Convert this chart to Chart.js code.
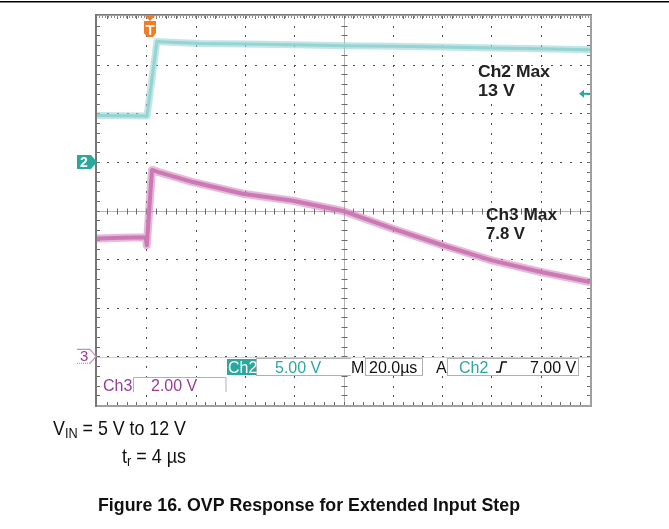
<!DOCTYPE html>
<html>
<head>
<meta charset="utf-8">
<script src="https://cdn.jsdelivr.net/npm/chart.js@4.4.1/dist/chart.umd.min.js"></script>
<style>
  html, body { margin: 0; padding: 0; background: #fff; }
</style>
</head>
<body>
<canvas id="scope" width="669" height="529"></canvas>
<script>
const ch2Time  = [0, 10, 20.3, 24.3, 30, 42, 60, 80, 100, 120, 140, 160, 180, 200];
const ch2Volts = [4.76, 4.74, 4.72, 12.38, 12.3, 12.17, 12.12, 12.05, 11.95, 11.9, 11.82, 11.72, 11.62, 11.52];
const ch3Time  = [0, 10, 19.8, 20.2, 22.3, 25, 38.9, 59.2, 79.5, 99.8, 120, 140.2, 160.1, 180.1, 200];
const ch3Volts = [4.85, 4.88, 4.9, 4.57, 7.67, 7.58, 7.17, 6.69, 6.4, 5.98, 5.25, 4.57, 3.95, 3.47, 3.06];

// scope settings
const ch2PerDiv = 5, ch3PerDiv = 2;
const trigTime = 21.5, trigLevel = 7.0;
const ch2Readout = '5.00 V', ch3Readout = '2.00 V', timeReadout = '20.0µs', trigReadout = '7.00 V';

const ch2Pts = ch2Time.map((t, i) => ({ x: t, y: ch2Volts[i] }));
const ch3Pts = ch3Time.map((t, i) => ({ x: t, y: ch3Volts[i] }));

// draw a run of text parts squeezed to a given width
function fitText(ctx, parts, x, baseline, width) {
    let w = 0;
    parts.forEach(p => { ctx.font = p.font; p.w = ctx.measureText(p.t).width; w += p.w; });
    ctx.save();
    ctx.translate(x, baseline);
    ctx.scale(width / w, 1);
    let cx = 0;
    parts.forEach(p => { ctx.font = p.font; ctx.fillText(p.t, cx, p.dy || 0); cx += p.w; });
    ctx.restore();
}

function box(ctx, x, y, w, h) {
    ctx.fillStyle = '#fff';
    ctx.fillRect(x, y, w, h);
    ctx.strokeRect(x + 0.5, y + 0.5, w, h);
}

const scopeScreen = {
    id: 'scopeScreen',
    beforeDatasetsDraw(chart) {
        const { ctx, chartArea: a, scales } = chart;
        const xs = scales.x, ys = scales.y3;
        const divW = (a.right - a.left) / 10, divH = (a.bottom - a.top) / 8;
        ctx.save();
        // dotted division lines
        ctx.fillStyle = '#4a4a4a';
        for (let i = 1; i < 10; i++) {
            if (i === 5) continue;
            const x = Math.round(xs.getPixelForValue(i * 20));
            for (let j = 1; j < 40; j++) ctx.fillRect(x, Math.round(a.top + j * divH / 5), 1, 2);
        }
        for (let k = 1; k < 8; k++) {
            if (k === 4) continue;
            const y = Math.round(ys.getPixelForValue(-2 + k * ch3PerDiv));
            for (let j = 1; j < 50; j++) ctx.fillRect(Math.round(a.left + j * divW / 5), y, 2, 1);
        }
        // centre crosshair
        const cx = Math.round(xs.getPixelForValue(100)) + 0.5;
        const cy = Math.round(ys.getPixelForValue(6)) + 0.5;
        ctx.strokeStyle = '#b4b4b4';
        ctx.lineWidth = 1;
        ctx.beginPath();
        ctx.moveTo(a.left, cy); ctx.lineTo(a.right, cy);
        ctx.moveTo(cx, a.top); ctx.lineTo(cx, a.bottom);
        ctx.stroke();
        ctx.strokeStyle = '#6a6a6a';
        ctx.beginPath();
        for (let j = 1; j < 50; j++) {
            const x = Math.round(a.left + j * divW / 5) + 0.5;
            ctx.moveTo(x, cy - 3); ctx.lineTo(x, cy + 3);
            ctx.moveTo(x, a.top); ctx.lineTo(x, a.top + 3);
            ctx.moveTo(x, a.bottom); ctx.lineTo(x, a.bottom - 3);
        }
        for (let j = 1; j < 40; j++) {
            const y = Math.round(a.top + j * divH / 5) + 0.5;
            ctx.moveTo(cx - 3, y); ctx.lineTo(cx + 3, y);
            ctx.moveTo(a.left, y); ctx.lineTo(a.left + 3, y);
            ctx.moveTo(a.right, y); ctx.lineTo(a.right - 3, y);
        }
        ctx.stroke();
        // fine ticks along the top edge
        ctx.fillStyle = '#8a8a8a';
        for (let x = a.left + 2; x < a.right; x += 3) ctx.fillRect(x, a.top, 1, 2);
        ctx.restore();
    },
    afterDatasetsDraw(chart) {
        const { ctx, chartArea: a, scales } = chart;
        const xs = scales.x, y2 = scales.y2, y3 = scales.y3;
        ctx.save();
        // frame
        ctx.strokeStyle = '#a0a0a0';
        ctx.lineWidth = 2;
        ctx.strokeRect(a.left - 1, a.top - 1, a.right - a.left + 2, a.bottom - a.top + 2);
        ctx.fillStyle = '#777';
        ctx.fillRect(a.left - 2, a.top - 2, 2, a.bottom - a.top + 4);
        ctx.fillRect(a.left - 2, a.top - 2, a.right - a.left + 4, 1);

        // readout strip
        ctx.strokeStyle = '#cfcfcf';
        ctx.lineWidth = 1;
        ctx.beginPath(); ctx.moveTo(a.left, 357.5); ctx.lineTo(a.right, 357.5); ctx.stroke();
        ctx.strokeStyle = '#b0b0b0';
        box(ctx, 256, 358, 94, 17);
        box(ctx, 365, 358, 57, 17);
        box(ctx, 447, 358, 131, 17);
        ctx.fillStyle = '#fff';
        ctx.fillRect(134, 378, 92, 14);
        ctx.beginPath();
        ctx.moveTo(133.5, 392); ctx.lineTo(133.5, 377.5); ctx.lineTo(226, 377.5); ctx.lineTo(226, 392);
        ctx.stroke();
        ctx.fillRect(102, 378, 30, 14);
        ctx.fillRect(350, 359, 14, 16);
        ctx.fillRect(435, 359, 11, 16);

        ctx.font = '16px Arial';
        ctx.textBaseline = 'alphabetic';
        ctx.fillStyle = '#2aa8a0';
        ctx.fillRect(227, 359, 29, 16);
        ctx.fillStyle = '#fff';
        ctx.fillText('Ch2', 228, 373);
        ctx.fillStyle = '#2aa8a0';
        ctx.fillText(ch2Readout, 275, 373);
        ctx.fillText('Ch2', 459, 373);
        ctx.fillStyle = '#111';
        ctx.fillText('M', 351, 373);
        ctx.fillText(timeReadout, 369, 373);
        ctx.fillText('A', 436, 373);
        ctx.fillText(trigReadout, 530, 373);
        ctx.strokeStyle = '#111';
        ctx.lineWidth = 1.6;
        ctx.beginPath();
        ctx.moveTo(496, 372); ctx.lineTo(500, 372); ctx.lineTo(502, 362); ctx.lineTo(507, 362);
        ctx.stroke();
        ctx.fillStyle = '#9a3d92';
        ctx.fillText('Ch3', 103, 391);
        ctx.fillText(ch3Readout, 151, 391);

        // channel ground markers
        const g2 = y2.getPixelForValue(0), g3 = y3.getPixelForValue(0);
        ctx.fillStyle = '#2aa8a0';
        ctx.beginPath();
        ctx.moveTo(77, g2 - 7); ctx.lineTo(91, g2 - 7); ctx.lineTo(97, g2);
        ctx.lineTo(91, g2 + 7); ctx.lineTo(77, g2 + 7); ctx.closePath(); ctx.fill();
        ctx.fillStyle = '#fff';
        ctx.font = 'bold 14px Arial';
        ctx.fillText('2', 80, g2 + 5);
        ctx.strokeStyle = '#c98cc2';
        ctx.lineWidth = 1.2;
        ctx.beginPath();
        ctx.moveTo(77, g3 - 7); ctx.lineTo(90, g3 - 7); ctx.lineTo(96, g3);
        ctx.lineTo(90, g3 + 7); ctx.stroke();
        ctx.setLineDash([1, 1]);
        ctx.beginPath(); ctx.moveTo(77, g3 + 7); ctx.lineTo(90, g3 + 7); ctx.stroke();
        ctx.setLineDash([]);
        ctx.fillStyle = '#9a3d92';
        ctx.font = '15px Arial';
        ctx.fillText('3', 80, g3 + 5);

        // trigger position and level
        const tx = xs.getPixelForValue(trigTime);
        ctx.fillStyle = '#f07c26';
        ctx.beginPath();
        ctx.moveTo(tx - 6, 15); ctx.lineTo(tx + 6, 15); ctx.lineTo(tx, 21); ctx.closePath(); ctx.fill();
        ctx.beginPath();
        ctx.moveTo(tx - 6, 21); ctx.lineTo(tx + 6, 21); ctx.lineTo(tx + 6, 33);
        ctx.lineTo(tx + 3, 37); ctx.lineTo(tx - 3, 37); ctx.lineTo(tx - 6, 33); ctx.closePath(); ctx.fill();
        ctx.fillStyle = '#fff';
        ctx.font = 'bold 15px Arial';
        ctx.textAlign = 'center';
        ctx.fillText('T', tx, 35);
        ctx.textAlign = 'left';
        const ty = y2.getPixelForValue(trigLevel);
        ctx.fillStyle = '#2aa8a0';
        ctx.beginPath();
        ctx.moveTo(579, ty); ctx.lineTo(584, ty - 4); ctx.lineTo(584, ty + 4); ctx.closePath(); ctx.fill();
        ctx.fillRect(583, ty - 1, 7, 2);

        // max annotations
        ctx.fillStyle = '#222';
        fitText(ctx, [{ t: 'Ch2 Max', font: 'bold 17px Arial' }], 478, 77, 72);
        fitText(ctx, [{ t: '13 V', font: 'bold 17px Arial' }], 478, 96, 37);
        fitText(ctx, [{ t: 'Ch3 Max', font: 'bold 17px Arial' }], 486, 220, 71);
        fitText(ctx, [{ t: '7.8 V', font: 'bold 17px Arial' }], 486, 239, 39);
        ctx.restore();
    },
    afterDraw(chart) {
        const ctx = chart.ctx;
        ctx.save();
        ctx.fillStyle = '#000';
        ctx.fillRect(0, 1, 669, 1.5);
        ctx.fillStyle = '#111';
        fitText(ctx, [
            { t: 'V', font: '21px Arial' },
            { t: 'IN', font: '15px Arial', dy: 3 },
            { t: ' = 5 V to 12 V', font: '21px Arial' }
        ], 53, 435, 133);
        fitText(ctx, [
            { t: 't', font: '21px Arial' },
            { t: 'r', font: '15px Arial', dy: 3 },
            { t: ' = 4 µs', font: '21px Arial' }
        ], 122, 463, 64);
        fitText(ctx, [{ t: 'Figure 16. OVP Response for Extended Input Step', font: 'bold 18px Arial' }], 98, 511, 422);
        ctx.restore();
    }
};

new Chart(document.getElementById('scope'), {
    type: 'line',
    data: {
        datasets: [
            { label: 'Ch2 band', data: ch2Pts, yAxisID: 'y2', borderColor: 'rgba(150, 213, 211, 0.6)', borderWidth: 7 },
            { label: 'Ch2', data: ch2Pts, yAxisID: 'y2', borderColor: '#93d3d0', borderWidth: 3 },
            { label: 'Ch3 band', data: ch3Pts, yAxisID: 'y3', borderColor: 'rgba(208, 128, 186, 0.55)', borderWidth: 8 },
            { label: 'Ch3', data: ch3Pts, yAxisID: 'y3', borderColor: '#c76fb0', borderWidth: 4 }
        ]
    },
    options: {
        responsive: false,
        animation: false,
        layout: { padding: { left: 97, top: 16, right: 79, bottom: 124 } },
        elements: {
            point: { radius: 0 },
            line: { tension: 0, borderJoinStyle: 'round' }
        },
        scales: {
            x: { type: 'linear', min: 0, max: 200, display: false },
            y2: { min: -5 * ch2PerDiv, max: 3 * ch2PerDiv, display: false },
            y3: { min: -1 * ch3PerDiv, max: 7 * ch3PerDiv, display: false }
        },
        plugins: { legend: { display: false }, tooltip: { enabled: false } }
    },
    plugins: [scopeScreen]
});
</script>
</body>
</html>
